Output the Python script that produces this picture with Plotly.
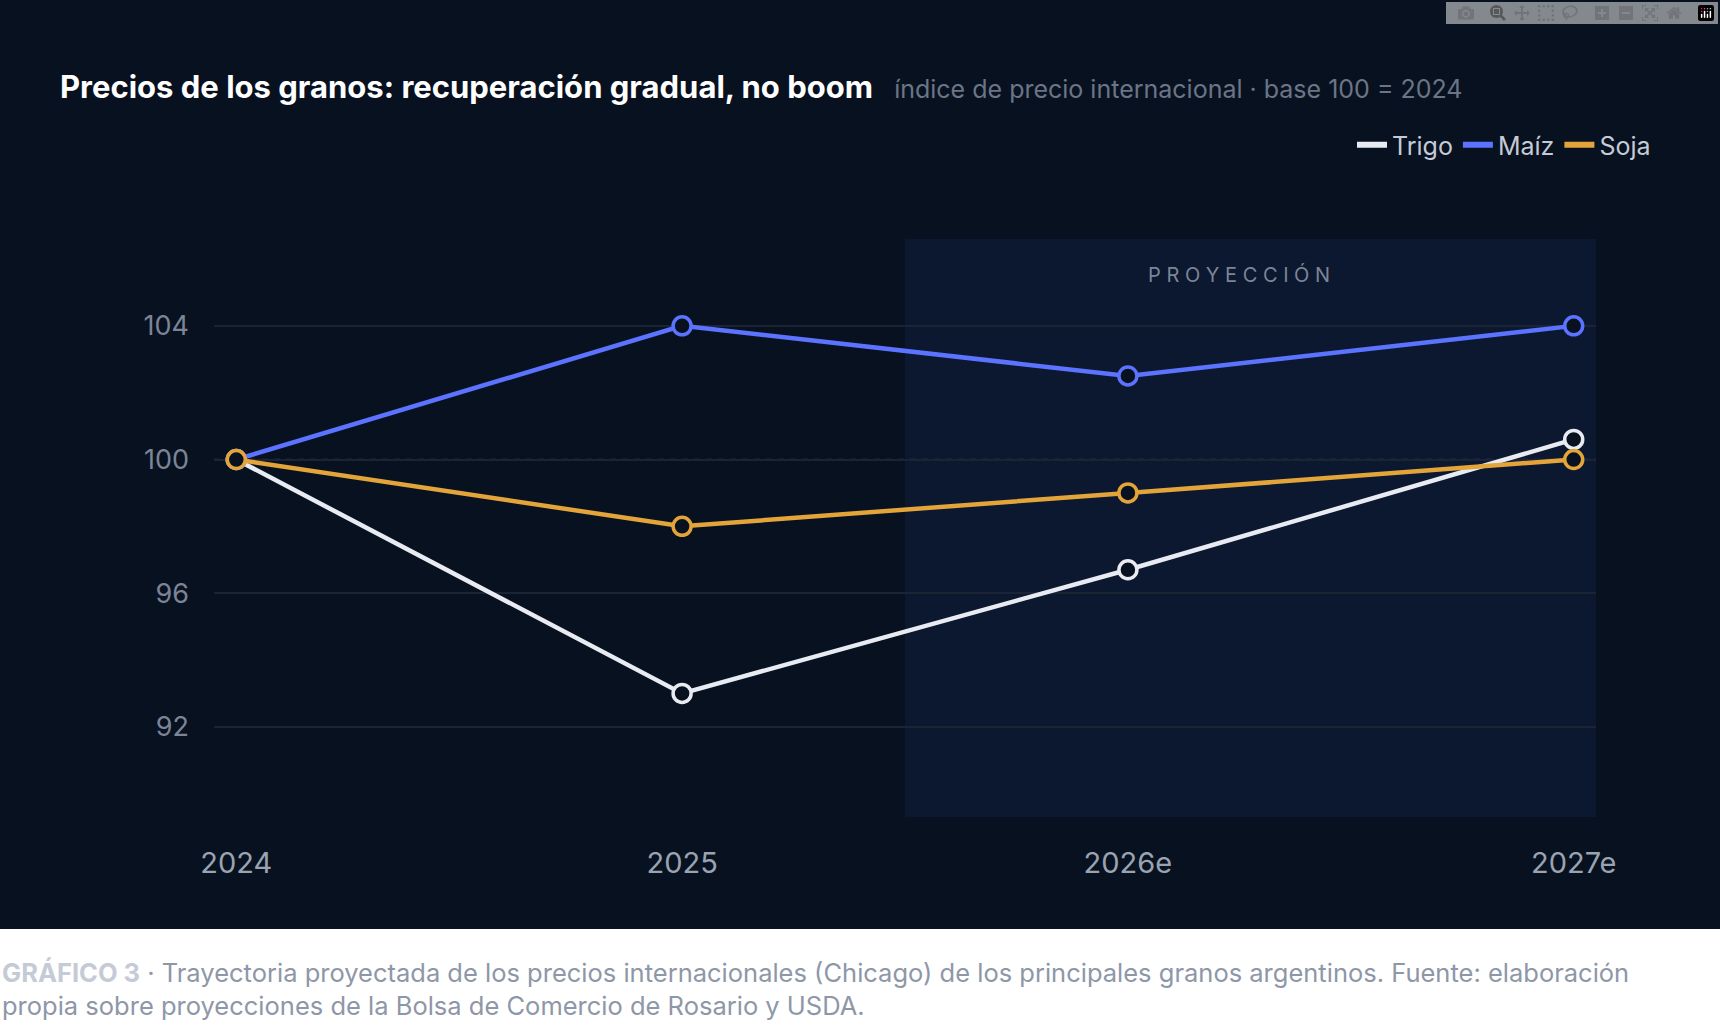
import plotly.graph_objects as go

years = ["2024", "2025", "2026e", "2027e"]
trigo = [100, 93, 96.7, 100.6]
maiz = [100, 104, 102.5, 104]
soja = [100, 98, 99, 100]
y_ticks = [92, 96, 100, 104]

W, H = 1720, 1036
L, R, T, B = 214, 124, 239, 219
PW, PH = W - L - R, H - T - B
FONT = "Inter"
BG = "#08111f"

fig = go.Figure()

# dark panel and projection band
fig.add_shape(type="rect", xref="paper", yref="paper", x0=-L / PW, x1=1 + R / PW,
              y0=(H - B - 929) / PH, y1=1 + T / PH,
              fillcolor=BG, line_width=0, layer="below")
fig.add_shape(type="rect", xref="x", yref="paper", x0=1.5, x1=3.05, y0=0, y1=1,
              fillcolor="#0c1730", line_width=0, layer="below")
fig.add_hline(y=100, line=dict(color="#344055", width=1.5, dash="6px,6px"), layer="below")

series = [("Trigo", trigo, "#e8ecf2"), ("Maíz", maiz, "#5b73ff"), ("Soja", soja, "#e3a43a")]
for name, vals, color in series:
    fig.add_trace(go.Scatter(
        x=[0, 1, 2, 3], y=vals, name=name, mode="lines+markers", showlegend=False,
        line=dict(color=color, width=4.5),
        marker=dict(size=18, color=BG, line=dict(color=color, width=3.5)),
    ))
    # legend entry: line only
    fig.add_trace(go.Scatter(x=[None], y=[None], name=name, mode="lines",
                             line=dict(color=color, width=6)))

fig.add_annotation(x=2.25, y=105.55, text="P R O Y E C C I Ó N", showarrow=False,
                   font=dict(family=FONT, size=20, color="#7b8597"))
fig.add_annotation(xref="paper", yref="paper", x=-L / PW + 58 / PW, y=1 + (T - 86) / PH,
                   xanchor="left", yanchor="middle", showarrow=False,
                   text="<b>Precios de los granos: recuperación gradual, no boom</b>"
                        "<span style='font-size:25px;color:#6b7587'>   índice de precio internacional · base 100 = 2024</span>",
                   font=dict(family=FONT, size=31, color="#ffffff"))
cap = ("<b style='color:#c5cbd6'>GRÁFICO 3</b> · Trayectoria proyectada de los precios internacionales (Chicago) de los principales granos argentinos. Fuente: elaboración"
       "<br>propia sobre proyecciones de la Bolsa de Comercio de Rosario y USDA.")
fig.add_annotation(xref="paper", yref="paper", x=-L / PW, y=-(955 - 817) / PH,
                   xanchor="left", yanchor="top", align="left", showarrow=False, text=cap,
                   font=dict(family=FONT, size=25.5, color="#8e97a8", lineposition="none"))

fig.update_layout(
    width=W, height=H, margin=dict(l=L, r=R, t=T, b=B),
    paper_bgcolor="#ffffff", plot_bgcolor="rgba(0,0,0,0)",
    font=dict(family=FONT, color="#8e97a8"),
    showlegend=True,
    legend=dict(orientation="h", x=1 + 60 / PW, xanchor="right", y=1 + (T - 145) / PH,
                yanchor="middle", font=dict(size=25, color="#c5cbd6"), bgcolor="rgba(0,0,0,0)",
                itemwidth=30),
    xaxis=dict(range=[-0.05, 3.05], tickvals=[0, 1, 2, 3], ticktext=years, showgrid=False,
               zeroline=False, ticks="", ticklabelstandoff=26, tickfont=dict(size=29, color="#9aa3b2")),
    yaxis=dict(range=[89.3, 106.6], tickvals=y_ticks, showgrid=True, gridcolor="#1a2435", gridwidth=1.5,
               zeroline=False, ticks="", ticklabelstandoff=24, tickfont=dict(size=27, color="#7b8597")),
)

fig.write_html("out.html", post_script="document.body.style.margin='0';")
